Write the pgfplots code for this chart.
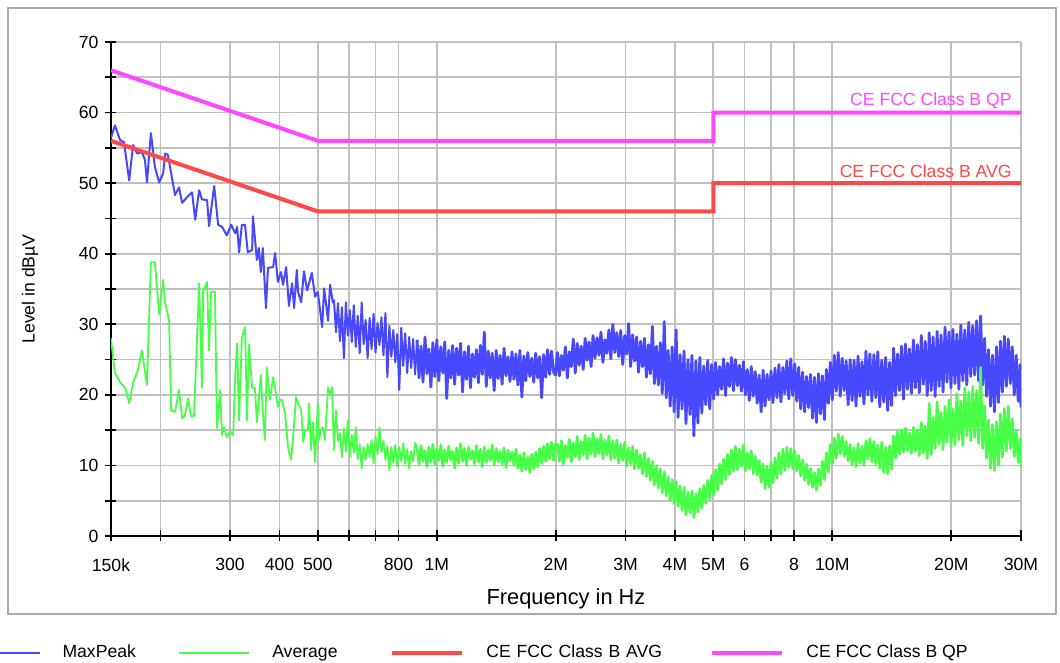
\documentclass[border=0pt]{standalone}
\usepackage{fontspec}
\setmainfont{Liberation Sans}
\usepackage{pgfplots}
\pgfplotsset{compat=1.18}
\definecolor{mpblue}{RGB}{72,72,255}
\definecolor{avgreen}{RGB}{72,255,72}
\definecolor{limred}{RGB}{255,72,72}
\definecolor{limmag}{RGB}{255,72,255}
\definecolor{gridgray}{RGB}{192,192,192}
\definecolor{framegray}{RGB}{170,170,170}
\begin{document}
\begin{tikzpicture}
\begin{axis}[
  name=ax, at={(0,0)}, anchor=south west,
  scale only axis, width=455pt, height=247pt,
  xmin=5.17609, xmax=7.47712, ymin=0, ymax=70,
  axis lines=left, axis line style={-, line width=1pt, black},
  xtick={5.17609,5.30103,5.47712,5.60206,5.69897,5.77815,5.84510,5.90309,6,6.30103,6.47712,6.60206,6.69897,6.77815,6.84510,6.90309,7,7.30103,7.47712},
  xticklabels={150k,,300,400,500,,,800,1M,2M,3M,4M,5M,6,,8,10M,20M,30M},
  ytick={0,10,...,70}, minor ytick={5,15,...,65},
  grid=both,
  major grid style={gridgray, line width=0.9pt},
  minor grid style={gridgray, line width=0.9pt},
  tick align=center, major tick length=5.5pt, minor tick length=5.5pt,
  tick style={black, line width=0.9pt},
  ticklabel style={font=\fontsize{8.8}{10}\selectfont},
  xticklabel style={yshift=-5pt},
  /pgf/number format/assume math mode=true,
  xlabel={Frequency in Hz}, ylabel={Level in dBµV},
  x label style={at={(axis description cs:0.5,-0.1275)}, anchor=center, font=\fontsize{10.9}{12}\selectfont},
  y label style={at={(axis description cs:-0.089,0.5)}, anchor=center, font=\fontsize{8.8}{10}\selectfont},
  legend columns=4,
  legend cell align=left,
  legend style={draw=none, fill=none, at={(axis description cs:-0.1570,-0.2368)}, anchor=west,
    inner sep=0pt, nodes={inner sep=0pt}, font=\fontsize{8.8}{10}\selectfont,
    /tikz/every odd column/.append style={column sep=11pt},
    /tikz/every even column/.append style={column sep=0pt}},
  legend image code/.code={\draw[#1] (0pt,0pt) -- (35pt,0pt);},
]
% MaxPeak, lower frequencies
\addplot[mpblue, line width=1pt, line join=round] coordinates {
(5.176,56.4)(5.186,58.2)(5.199,56.1)(5.209,55.8)(5.222,50.4)(5.232,55.4)(5.242,54.2)(5.254,54.4)(5.262,53.3)(5.267,50.1)(5.277,57.1)(5.287,52.3)(5.298,50.1)(5.308,51.4)(5.313,54.2)(5.320,54.0)(5.338,48.3)(5.348,49.4)(5.356,47.2)(5.368,48.0)(5.381,48.7)(5.389,44.8)(5.399,49.0)(5.406,47.7)(5.419,47.6)(5.424,43.9)(5.437,49.6)(5.447,44.1)(5.457,43.8)(5.469,42.6)(5.480,44.1)(5.490,42.9)(5.495,43.8)(5.500,40.2)(5.507,44.1)(5.515,44.1)(5.522,40.2)(5.533,40.5)(5.535,45.3)(5.545,39.1)(5.550,40.8)(5.555,37.4)(5.560,40.8)(5.568,32.3)(5.573,38.0)(5.586,38.1)(5.591,40.1)(5.598,36.0)(5.606,37.4)(5.611,35.6)(5.619,38.1)(5.626,32.6)(5.634,35.8)(5.639,32.3)(5.646,37.7)(5.649,34.6)(5.657,33.1)(5.664,37.5)(5.672,34.8)(5.684,37.3)(5.692,33.9)(5.699,34.6)(5.710,29.6)(5.715,35.1)(5.725,30.5)(5.730,35.6)(5.737,33.1)
(5.740,33.4)(5.745,28.9)(5.750,33.0)(5.755,27.6)(5.760,32.4)(5.765,25.2)(5.770,33.1)(5.775,28.4)(5.780,32.0)(5.785,27.5)
(5.790,32.7)(5.795,26.8)(5.800,31.2)(5.805,25.9)(5.810,33.1)(5.815,27.2)(5.820,30.6)(5.825,25.2)(5.830,30.9)(5.835,26.5)
(5.840,31.5)(5.845,26.0)(5.850,30.2)(5.855,27.1)(5.860,31.0)(5.865,25.6)(5.870,31.6)(5.875,22.5)(5.880,29.8)(5.885,25.4)
(5.890,29.2)(5.895,24.6)(5.900,28.6)(5.905,20.7)(5.910,29.5)(5.915,24.1)(5.920,28.7)(5.925,23.1)(5.930,28.2)(5.935,23.8)
(5.940,27.9)(5.945,22.9)(5.950,27.8)
};
\addlegendentry[text width=58pt]{MaxPeak}
% MaxPeak, dense part
\addplot[mpblue, line width=1.4pt, line join=round, forget plot] coordinates {
(5.950,27.8)(5.955,22.4)(5.960,26.9)(5.965,21.8)(5.970,28.2)(5.975,23.0)(5.980,26.5)(5.985,21.1)(5.990,27.4)(5.995,22.6)
(6.000,27.8)(6.005,22.0)(6.010,26.8)(6.015,23.1)(6.020,27.5)(6.025,19.5)(6.030,26.3)(6.035,22.4)(6.040,27.0)(6.045,21.5)
(6.050,26.6)(6.055,22.8)(6.060,27.3)(6.065,20.4)(6.070,26.1)(6.075,22.2)(6.080,26.9)(6.085,21.0)(6.090,25.8)(6.095,22.5)
(6.100,26.4)(6.105,21.7)(6.110,27.0)(6.115,22.9)(6.120,28.9)(6.125,21.2)(6.130,26.2)(6.135,22.4)(6.140,25.9)(6.145,20.6)
(6.150,26.3)(6.155,22.3)(6.160,25.6)(6.165,21.5)(6.170,26.6)(6.175,22.7)(6.180,25.4)(6.185,21.9)(6.190,26.1)(6.195,22.2)
(6.200,25.8)(6.205,21.4)(6.210,26.3)(6.215,19.7)(6.220,25.5)(6.225,22.0)(6.230,26.0)(6.235,22.6)(6.240,25.2)(6.245,21.8)
(6.250,25.9)(6.255,22.4)(6.260,25.4)(6.265,19.6)(6.270,25.7)(6.275,22.5)(6.280,26.4)(6.285,22.9)(6.290,26.2)(6.295,23.3)(6.300,22.8)
(6.305,26.0)(6.310,22.7)(6.315,25.6)(6.320,23.5)(6.325,26.8)(6.330,22.4)(6.335,26.1)(6.340,24.0)(6.345,27.9)(6.350,23.1)
(6.355,27.3)(6.360,24.2)(6.365,26.9)(6.370,23.6)(6.375,28.0)(6.380,24.9)(6.385,27.5)(6.390,24.0)(6.395,28.4)(6.400,25.2)
(6.405,28.1)(6.410,25.6)(6.415,28.9)(6.420,24.6)(6.425,27.8)(6.430,25.9)(6.435,29.2)(6.440,25.1)(6.445,30.0)(6.450,26.0)
(6.455,28.8)(6.460,25.4)(6.465,29.1)(6.470,24.3)(6.475,28.4)(6.480,25.8)(6.485,30.1)(6.490,24.0)(6.495,28.5)(6.500,24.8)
(6.505,28.2)(6.510,23.2)(6.515,27.6)(6.520,24.0)(6.525,28.0)(6.530,22.5)(6.535,27.1)(6.540,23.0)(6.545,29.7)(6.550,21.6)
(6.555,26.9)(6.560,21.4)(6.565,27.4)(6.570,20.2)(6.575,30.4)(6.580,19.6)(6.585,26.3)(6.590,18.4)(6.595,26.8)(6.600,17.6)
(6.605,29.2)(6.610,16.8)(6.615,25.7)(6.620,18.0)(6.625,26.2)(6.630,15.9)(6.635,25.0)(6.640,17.2)(6.645,25.6)(6.650,14.2)
(6.655,24.8)(6.660,16.0)(6.665,25.3)(6.670,17.4)(6.675,24.1)(6.680,18.6)(6.685,24.9)(6.690,18.0)(6.695,24.3)(6.700,19.4)
(6.705,24.6)(6.710,20.0)(6.715,24.0)(6.720,20.8)(6.725,25.1)(6.730,19.9)(6.735,24.5)(6.740,21.2)(6.745,25.3)(6.750,20.6)
(6.755,25.0)(6.760,21.3)(6.765,24.2)(6.770,20.5)(6.775,24.7)(6.780,20.0)(6.785,23.6)(6.790,19.2)(6.795,24.0)(6.800,19.8)
(6.805,23.3)(6.810,18.8)(6.815,22.8)(6.820,17.6)(6.825,23.5)(6.830,18.4)(6.835,22.9)(6.840,19.3)(6.845,23.4)(6.850,18.9)
(6.855,23.8)(6.860,19.6)(6.865,24.3)(6.870,19.0)(6.875,23.9)(6.880,20.2)(6.885,24.8)(6.890,19.4)(6.895,25.1)(6.900,19.9)
(6.905,24.4)(6.910,19.1)(6.915,23.9)(6.920,18.0)(6.925,23.2)(6.930,17.6)(6.935,22.6)(6.940,18.2)(6.945,22.9)(6.950,16.7)
(6.955,22.5)(6.960,16.1)(6.965,23.0)(6.970,17.3)(6.975,22.7)(6.980,16.5)(6.985,23.6)(6.990,18.8)(6.995,24.6)(7.000,19.3)
(7.005,25.6)(7.010,20.5)(7.015,26.0)(7.020,19.8)(7.025,25.2)(7.030,20.6)(7.035,24.8)(7.040,18.6)(7.045,25.0)(7.050,19.2)
(7.055,24.9)(7.060,18.4)(7.065,25.5)(7.070,19.8)(7.075,24.7)(7.080,18.7)(7.085,26.2)(7.090,20.0)(7.095,25.8)(7.100,19.1)
(7.105,25.7)(7.110,19.6)(7.115,26.1)(7.120,18.3)(7.125,24.9)(7.130,19.0)(7.135,25.3)(7.140,17.8)(7.145,24.6)(7.150,18.5)
(7.155,26.6)(7.160,19.9)(7.165,25.8)(7.170,20.6)(7.175,26.9)(7.180,19.4)(7.185,27.2)(7.190,20.8)(7.195,26.5)(7.200,20.2)
(7.205,27.8)(7.210,21.0)(7.215,27.1)(7.220,20.3)(7.225,28.4)(7.230,21.5)(7.235,27.6)(7.240,19.9)(7.245,28.8)(7.250,20.6)
(7.255,28.2)(7.260,19.8)(7.265,29.0)(7.270,21.2)(7.275,28.5)(7.280,20.4)(7.285,29.6)(7.290,21.8)(7.295,28.9)(7.300,21.0)
(7.305,29.3)(7.310,21.6)(7.315,28.6)(7.320,20.8)(7.325,29.9)(7.330,22.0)(7.335,29.2)(7.340,21.4)(7.345,30.3)(7.350,22.6)
(7.355,29.8)(7.360,22.8)(7.365,30.5)(7.370,22.0)(7.375,31.2)(7.380,21.4)(7.385,28.0)(7.390,19.8)(7.395,26.4)(7.400,18.4)
(7.405,25.6)(7.410,17.6)(7.415,26.8)(7.420,18.9)(7.425,27.6)(7.430,20.4)(7.435,28.3)(7.440,21.2)(7.445,27.9)(7.450,21.6)
(7.455,26.8)(7.460,20.0)(7.465,25.6)(7.470,19.1)(7.475,24.3)(7.477,18.2)
};
% Average, lower frequencies
\addplot[avgreen, line width=0.9pt, line join=round] coordinates {
(5.176,28.0)(5.186,23.1)(5.199,21.8)(5.212,21.0)(5.222,18.8)(5.232,21.7)(5.244,23.5)(5.254,26.3)(5.267,21.4)(5.277,38.8)(5.287,38.8)(5.298,31.4)(5.308,36.3)(5.313,33.0)(5.323,30.6)(5.328,17.8)(5.338,17.6)(5.348,20.7)(5.356,16.7)(5.363,17.1)(5.371,19.5)(5.378,17.0)(5.386,17.0)(5.399,35.8)(5.406,21.0)(5.409,34.6)(5.419,36.0)(5.424,26.3)(5.429,34.6)(5.439,34.6)(5.444,15.3)(5.452,20.7)(5.457,14.3)(5.462,15.4)(5.469,14.0)(5.477,14.8)(5.485,14.3)(5.490,22.5)(5.495,27.3)(5.500,16.4)(5.507,28.0)(5.515,29.6)(5.520,16.4)(5.525,27.1)(5.533,21.0)(5.540,21.0)(5.545,16.1)(5.555,22.8)(5.560,17.6)(5.565,13.6)(5.570,23.9)(5.578,19.3)(5.586,22.5)(5.593,20.3)(5.598,18.3)(5.603,19.3)(5.608,19.3)(5.616,17.4)(5.624,12.5)(5.631,10.8)(5.636,13.6)(5.644,19.7)(5.649,18.8)(5.657,17.8)(5.662,13.3)(5.667,15.0)(5.674,15.0)(5.677,18.8)(5.682,12.2)(5.687,16.1)(5.692,10.5)(5.699,18.8)(5.702,13.6)(5.707,15.0)(5.712,15.4)(5.717,13.6)(5.725,21.0)(5.730,20.0)(5.735,21.1)
(5.740,12.2)(5.745,17.8)(5.750,13.4)(5.755,14.6)(5.760,11.2)(5.765,15.2)(5.770,12.0)(5.775,16.4)(5.780,11.2)(5.785,14.3)
(5.790,11.8)(5.795,15.4)(5.800,10.9)(5.805,13.0)(5.810,9.6)(5.815,12.6)(5.820,10.8)(5.825,13.0)(5.830,11.2)(5.835,13.6)
(5.840,10.3)(5.845,14.1)(5.850,11.6)(5.855,15.4)(5.860,11.9)(5.865,13.5)(5.870,10.8)(5.875,12.7)(5.880,9.3)(5.885,12.6)
(5.890,10.4)(5.895,12.9)(5.900,9.8)(5.905,12.6)(5.910,10.6)(5.915,13.1)(5.920,10.2)(5.925,12.3)(5.930,9.6)(5.935,12.0)
(5.940,10.6)(5.945,13.2)(5.950,12.4)
};
\addlegendentry[text width=59pt]{Average}
% Average, dense part
\addplot[avgreen, line width=1.3pt, line join=round, forget plot] coordinates {
(5.950,12.4)(5.955,10.2)(5.960,12.8)(5.965,10.6)(5.970,12.1)(5.975,9.8)(5.980,12.6)(5.985,10.5)(5.990,13.0)(5.995,10.1)
(6.000,12.3)(6.005,10.7)(6.010,12.9)(6.015,9.9)(6.020,12.2)(6.025,10.4)(6.030,12.7)(6.035,10.8)(6.040,12.0)(6.045,9.6)
(6.050,12.5)(6.055,10.3)(6.060,13.1)(6.065,10.6)(6.070,12.4)(6.075,10.0)(6.080,12.6)(6.085,10.9)(6.090,12.1)(6.095,10.2)
(6.100,12.8)(6.105,10.5)(6.110,12.3)(6.115,9.8)(6.120,12.6)(6.125,10.4)(6.130,12.2)(6.135,10.7)(6.140,12.9)(6.145,10.1)
(6.150,12.4)(6.155,10.5)(6.160,12.0)(6.165,10.2)(6.170,12.5)(6.175,9.7)(6.180,12.2)(6.185,10.6)(6.190,11.9)(6.195,10.0)
(6.200,12.3)(6.205,9.6)(6.210,11.5)(6.215,9.2)(6.220,11.8)(6.225,9.4)(6.230,11.2)(6.235,9.0)(6.240,11.6)(6.245,9.5)
(6.250,11.9)(6.255,9.8)(6.260,12.4)(6.265,10.3)(6.270,12.7)(6.275,10.6)(6.280,13.1)(6.285,10.9)(6.290,13.3)(6.295,10.7)(6.300,13.0)
(6.305,13.0)(6.310,10.6)(6.315,13.5)(6.320,10.2)(6.325,12.8)(6.330,11.1)(6.335,13.7)(6.340,10.5)(6.345,13.2)(6.350,11.2)
(6.355,14.1)(6.360,10.8)(6.365,13.4)(6.370,11.5)(6.375,14.3)(6.380,10.9)(6.385,13.9)(6.390,11.6)(6.395,14.6)(6.400,11.2)
(6.405,13.8)(6.410,11.7)(6.415,14.4)(6.420,10.9)(6.425,13.6)(6.430,11.5)(6.435,14.2)(6.440,10.8)(6.445,13.5)(6.450,11.0)
(6.455,13.6)(6.460,10.3)(6.465,13.0)(6.470,10.7)(6.475,13.3)(6.480,9.9)(6.485,12.5)(6.490,10.2)(6.495,12.7)(6.500,9.5)
(6.505,12.2)(6.510,9.6)(6.515,11.5)(6.520,8.8)(6.525,11.8)(6.530,8.4)(6.535,11.0)(6.540,7.9)(6.545,10.6)(6.550,7.2)
(6.555,10.0)(6.560,6.8)(6.565,9.5)(6.570,6.1)(6.575,9.1)(6.580,5.7)(6.585,8.4)(6.590,5.0)(6.595,8.0)(6.600,4.6)
(6.605,7.7)(6.610,4.2)(6.615,7.1)(6.620,3.6)(6.625,6.9)(6.630,3.0)(6.635,6.2)(6.640,3.3)(6.645,6.4)(6.650,2.6)
(6.655,6.0)(6.660,3.4)(6.665,6.7)(6.670,3.9)(6.675,7.2)(6.680,4.6)(6.685,7.9)(6.690,5.2)(6.695,8.6)(6.700,5.8)
(6.705,9.4)(6.710,6.5)(6.715,10.2)(6.720,7.4)(6.725,10.9)(6.730,8.0)(6.735,11.6)(6.740,8.7)(6.745,12.2)(6.750,9.2)
(6.755,12.7)(6.760,9.4)(6.765,12.3)(6.770,9.9)(6.775,12.9)(6.780,9.2)(6.785,11.8)(6.790,9.5)(6.795,12.1)(6.800,8.8)
(6.805,11.3)(6.810,8.6)(6.815,10.7)(6.820,7.6)(6.825,10.2)(6.830,6.7)(6.835,9.9)(6.840,6.9)(6.845,10.5)(6.850,7.5)
(6.855,11.1)(6.860,8.2)(6.865,11.8)(6.870,8.8)(6.875,12.3)(6.880,9.3)(6.885,12.6)(6.890,9.7)(6.895,12.4)(6.900,9.5)
(6.905,12.1)(6.910,9.2)(6.915,11.4)(6.920,8.5)(6.925,10.8)(6.930,7.9)(6.935,10.2)(6.940,7.3)(6.945,9.6)(6.950,6.9)
(6.955,9.0)(6.960,6.5)(6.965,9.5)(6.970,7.2)(6.975,10.6)(6.980,8.0)(6.985,11.8)(6.990,9.1)(6.995,13.0)(7.000,10.2)
(7.005,13.9)(7.010,11.0)(7.015,14.5)(7.020,11.6)(7.025,14.1)(7.030,11.3)(7.035,13.4)(7.040,10.6)(7.045,13.0)(7.050,10.1)
(7.055,12.5)(7.060,9.8)(7.065,13.1)(7.070,10.3)(7.075,12.7)(7.080,10.0)(7.085,13.5)(7.090,10.9)(7.095,13.8)(7.100,10.5)
(7.105,13.4)(7.110,10.2)(7.115,12.9)(7.120,9.6)(7.125,13.3)(7.130,9.0)(7.135,12.6)(7.140,8.8)(7.145,12.8)(7.150,9.5)
(7.155,14.2)(7.160,11.0)(7.165,14.8)(7.170,11.6)(7.175,15.0)(7.180,11.9)(7.185,15.3)(7.190,12.1)(7.195,14.6)(7.200,11.7)
(7.205,15.4)(7.210,12.0)(7.215,15.0)(7.220,11.4)(7.225,16.1)(7.230,11.8)(7.235,15.6)(7.240,11.0)(7.245,18.8)(7.250,11.5)
(7.255,16.8)(7.260,12.4)(7.265,19.0)(7.270,13.0)(7.275,17.5)(7.280,12.2)(7.285,18.4)(7.290,13.3)(7.295,19.3)(7.300,12.7)
(7.305,18.0)(7.310,12.9)(7.315,20.2)(7.320,13.6)(7.325,19.1)(7.330,12.8)(7.335,21.0)(7.340,14.2)(7.345,20.4)(7.350,13.5)
(7.355,21.2)(7.360,14.0)(7.365,20.6)(7.370,13.1)(7.375,23.9)(7.380,12.4)(7.385,18.5)(7.390,11.0)(7.395,16.4)(7.400,9.6)
(7.405,15.8)(7.410,9.3)(7.415,16.2)(7.420,10.0)(7.425,17.3)(7.430,11.2)(7.435,18.1)(7.440,12.0)(7.445,18.4)(7.450,12.4)
(7.455,16.6)(7.460,11.3)(7.465,15.0)(7.470,10.4)(7.475,13.8)(7.477,9.8)
};
% Limits
\addplot[limred, line width=2pt] coordinates {(5.17609,56)(5.69897,46)(6.69897,46)(6.69897,50)(7.47712,50)};
\addlegendentry[text width=112pt]{CE FCC Class B AVG}
\addplot[limmag, line width=2pt] coordinates {(5.17609,66)(5.69897,56)(6.69897,56)(6.69897,60)(7.47712,60)};
\addlegendentry{CE FCC Class B QP}
\node[anchor=base east, text=limmag, font=\fontsize{8.8}{10}\selectfont, inner sep=0pt] at (axis cs:7.4542,60.95) {CE FCC Class B QP};
\node[anchor=base east, text=limred, font=\fontsize{8.8}{10}\selectfont, inner sep=0pt] at (axis cs:7.4542,50.85) {CE FCC Class B AVG};
\end{axis}
\draw[framegray, line width=1pt] ([xshift=-51.5pt,yshift=-39pt]ax.south west) rectangle ([xshift=472.5pt,yshift=264pt]ax.south west);
\pgfresetboundingbox
\path[use as bounding box] ([xshift=-55.5pt,yshift=-63.5pt]ax.south west) rectangle ([xshift=474.5pt,yshift=268pt]ax.south west);
\end{tikzpicture}
\end{document}
